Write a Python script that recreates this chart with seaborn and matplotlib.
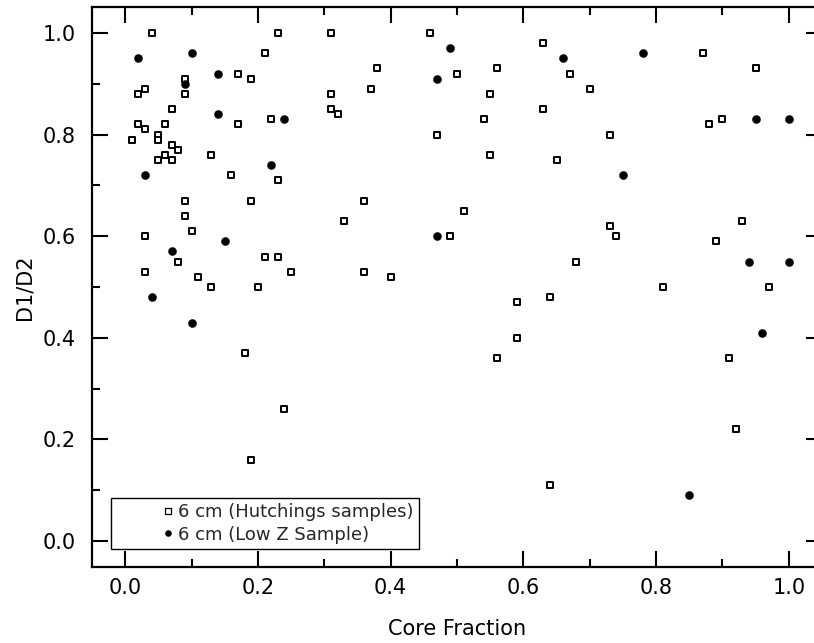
import matplotlib
matplotlib.use("Agg")
import matplotlib.pyplot as plt
import seaborn as sns
import pandas as pd
from matplotlib.ticker import MultipleLocator, FormatStrFormatter

# ---- data ----
hutch_x = [0.04, 0.21, 0.23, 0.17, 0.19, 0.09, 0.09, 0.02, 0.03, 0.07,
           0.17, 0.22, 0.02, 0.03, 0.06, 0.01, 0.05, 0.05, 0.07, 0.08,
           0.06, 0.05, 0.07, 0.13, 0.16, 0.23, 0.09, 0.19, 0.09, 0.10,
           0.03, 0.08, 0.21, 0.23, 0.03, 0.11, 0.13, 0.20, 0.25, 0.19,
           0.18, 0.24,
           0.31, 0.46, 0.38, 0.50, 0.56, 0.37, 0.31, 0.55, 0.31, 0.32,
           0.54, 0.47, 0.55, 0.36, 0.33, 0.51, 0.49, 0.36, 0.40, 0.59,
           0.59, 0.56,
           0.63, 0.87, 0.95, 0.67, 0.70, 0.63, 0.88, 0.90, 0.73, 0.65,
           0.73, 0.74, 0.93, 0.89, 0.68, 0.81, 0.97, 0.64, 0.91, 0.92,
           0.64]
hutch_y = [1.00, 0.96, 1.00, 0.92, 0.91, 0.91, 0.88, 0.88, 0.89, 0.85,
           0.82, 0.83, 0.82, 0.81, 0.82, 0.79, 0.80, 0.79, 0.78, 0.77,
           0.76, 0.75, 0.75, 0.76, 0.72, 0.71, 0.67, 0.67, 0.64, 0.61,
           0.60, 0.55, 0.56, 0.56, 0.53, 0.52, 0.50, 0.50, 0.53, 0.16,
           0.37, 0.26,
           1.00, 1.00, 0.93, 0.92, 0.93, 0.89, 0.88, 0.88, 0.85, 0.84,
           0.83, 0.80, 0.76, 0.67, 0.63, 0.65, 0.60, 0.53, 0.52, 0.47,
           0.40, 0.36,
           0.98, 0.96, 0.93, 0.92, 0.89, 0.85, 0.82, 0.83, 0.80, 0.75,
           0.62, 0.60, 0.63, 0.59, 0.55, 0.50, 0.50, 0.48, 0.36, 0.22,
           0.11]

lowz_x = [0.02, 0.10, 0.14, 0.09, 0.14, 0.24, 0.03, 0.22, 0.15, 0.07,
          0.04, 0.10, 0.49, 0.47, 0.47, 0.66, 0.78, 0.95, 1.00, 0.75,
          0.94, 1.00, 0.96, 0.85]
lowz_y = [0.95, 0.96, 0.92, 0.90, 0.84, 0.83, 0.72, 0.74, 0.59, 0.57,
          0.48, 0.43, 0.97, 0.91, 0.60, 0.95, 0.96, 0.83, 0.83, 0.72,
          0.55, 0.55, 0.41, 0.09]

label_hutch = "6 cm (Hutchings samples)"
label_lowz = "6 cm (Low Z Sample)"
x_label = "Core Fraction"
y_label = "D1/D2"

hutch = pd.DataFrame({"x": hutch_x, "y": hutch_y})
lowz = pd.DataFrame({"x": lowz_x, "y": lowz_y})

sns.set_theme(style="ticks")
plt.rcParams["font.family"] = ["DejaVu Sans"]

W, H = 814, 643
fig = plt.figure(figsize=(W / 100, H / 100), dpi=100)
ax = fig.add_axes([92 / W, 1 - 567 / H, (822 - 92) / W, (567 - 7) / H])

sns.scatterplot(data=hutch, x="x", y="y", marker="s", s=25, color="white",
                edgecolor="black", linewidth=1.4, label=label_hutch, ax=ax,
                zorder=3)
sns.scatterplot(data=lowz, x="x", y="y", marker="o", s=34, color="black",
                edgecolor="black", linewidth=0.3, label=label_lowz, ax=ax,
                zorder=4)

ax.set_xlim(-0.05, 1.05)
ax.set_ylim(-0.051, 1.051)

ax.xaxis.set_major_locator(MultipleLocator(0.2))
ax.xaxis.set_minor_locator(MultipleLocator(0.1))
ax.yaxis.set_major_locator(MultipleLocator(0.2))
ax.yaxis.set_minor_locator(MultipleLocator(0.1))
ax.xaxis.set_major_formatter(FormatStrFormatter("%.1f"))
ax.yaxis.set_major_formatter(FormatStrFormatter("%.1f"))

ax.tick_params(which="both", direction="in", top=True, right=True,
               width=1.5, color="black", labelsize=15, labelcolor="black")
ax.tick_params(which="major", length=11.5)
ax.tick_params(which="minor", length=5.8)
ax.tick_params(axis="x", which="major", pad=8)
ax.tick_params(axis="y", which="major", pad=11.5)

for sp in ax.spines.values():
    sp.set_linewidth(1.6)
    sp.set_color("black")

ax.set_xlabel(x_label, fontsize=15, labelpad=15, color="black")
ax.set_ylabel(y_label, fontsize=15, color="black")
ax.yaxis.set_label_coords(-0.079, 0.5)

leg = ax.legend(loc="lower left", bbox_to_anchor=(0.026, 0.032),
                borderaxespad=0, fontsize=13, frameon=True, fancybox=False,
                edgecolor="black", framealpha=1, borderpad=0.3,
                labelspacing=0.25, handlelength=5.7, handletextpad=-2.3,
                markerscale=0.75, scatteryoffsets=[0.5])
leg.get_frame().set_linewidth(1.0)
leg.legend_handles[0].set_linewidth(0.9)

fig.savefig("out.png", dpi=100)
